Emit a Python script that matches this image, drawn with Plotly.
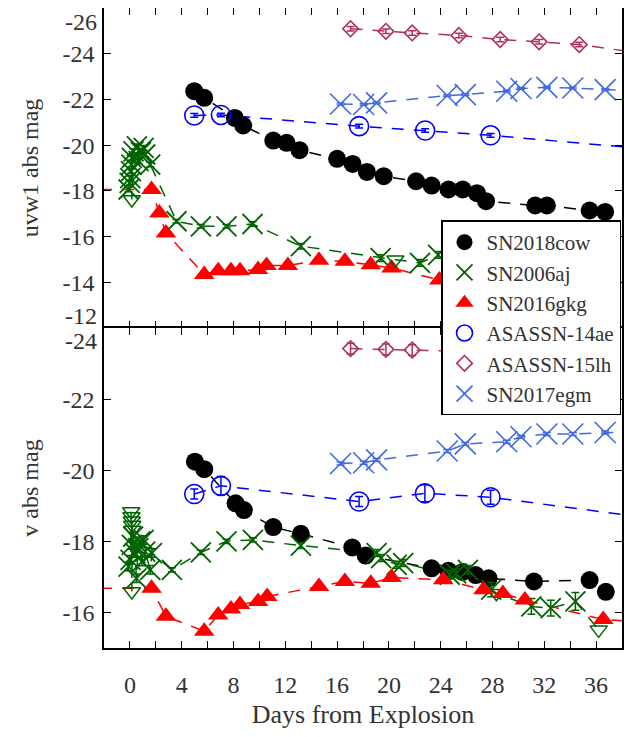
import plotly.graph_objects as go
from plotly.subplots import make_subplots

# ---------------- data (days from explosion, absolute magnitudes) ----------------
cow_uvw1_d = [4.97, 5.74, 8.1, 8.75, 11.07, 12.1, 13.1, 16.0, 17.2, 18.3, 19.6, 22.1, 23.3,
              24.6, 25.7, 26.8, 27.5, 31.3, 32.2, 35.5, 36.7]
cow_uvw1_m = [-22.36, -22.07, -21.19, -20.86, -20.2, -20.1, -19.78, -19.4, -19.18, -18.83,
              -18.64, -18.42, -18.23, -18.06, -18.06, -17.9, -17.55, -17.36, -17.36, -17.14, -17.08]
cow_v_d = [5.02, 5.74, 8.16, 8.8, 11.07, 13.2, 17.17, 18.2, 23.3, 24.6, 25.7, 26.7, 27.7,
           31.2, 35.5, 36.75]
cow_v_m = [-20.24, -20.03, -19.07, -18.88, -18.4, -18.21, -17.83, -17.6, -17.24, -17.17,
           -17.14, -17.05, -16.96, -16.87, -16.91, -16.58]

aj_uvw1_d = [-0.10, -0.02, 0.03, 0.08, 0.12, 0.15, 0.28, 0.54, 0.67, 0.85, 1.06, 1.18, 1.57,
             3.6, 5.48, 7.46, 9.47, 13.2, 19.36, 22.4, 23.8]
aj_uvw1_m = [-18.06, -18.35, -18.56, -18.86, -19.15, -19.44, -19.73, -19.95, -19.3, -19.7,
             -19.88, -19.59, -19.15, -16.67, -16.45, -16.45, -16.55, -15.58, -15.06, -14.85, -15.2]
aj_uvw1_e = [0.1] * 13 + [0.08, 0.08, 0.08, 0.1, 0.12, 0.15, 0.15, 0.15]
aj_uvw1_lim_d = [0.15, 20.5]
aj_uvw1_lim_m = [-17.62, -14.99]

aj_v_d = [-0.10, 0.05, 0.15, 0.25, 0.41, 0.50, 0.65, 0.80, 0.93, 1.06, 1.18, 1.57, 1.70,
          3.24, 5.48, 7.46, 9.5, 13.2, 19.05, 19.4, 20.6, 21.1, 24.7, 25.2, 26.1, 27.9,
          31.0, 32.5, 34.4]
aj_v_m = [-17.29, -17.48, -17.9, -18.13, -17.67, -16.96, -17.81, -18.0, -17.43, -18.04,
          -17.71, -17.2, -17.67, -17.2, -17.69, -18.0, -18.04, -17.88, -17.67, -17.53,
          -17.34, -17.39, -17.06, -17.1, -17.2, -16.64, -16.17, -16.12, -16.31]
aj_v_e = [0.12] * 13 + [0.06, 0.06, 0.06, 0.06, 0.08, 0.1, 0.1, 0.1, 0.1, 0.12, 0.12,
                        0.12, 0.2, 0.22, 0.22, 0.25]
aj_v_lim_d = [0.10, 0.12, 0.15, 0.18, 0.20, 0.15, 28.3, 36.2]
aj_v_lim_m = [-18.84, -18.70, -18.58, -18.46, -18.32, -16.59, -16.54, -15.51]

gkg_uvw1_d = [-4.0, 1.67, 2.27, 2.78, 5.74, 6.82, 7.8, 8.5, 9.9, 10.55, 12.2, 14.6, 16.6,
              18.6, 20.2, 23.9]
gkg_uvw1_m = [-18.06, -18.06, -17.03, -16.16, -14.34, -14.51, -14.51, -14.51, -14.56, -14.73,
              -14.73, -14.96, -14.92, -14.77, -14.63, -14.1]
gkg_v_d = [-4.0, 1.67, 2.78, 5.74, 6.82, 7.8, 8.5, 9.9, 10.6, 14.6, 16.6, 18.6, 20.2, 24.2,
           27.3, 28.8, 30.5, 36.55, 40.0]
gkg_v_m = [-16.68, -16.68, -15.89, -15.47, -15.93, -16.1, -16.22, -16.31, -16.45, -16.73,
           -16.87, -16.82, -16.98, -16.92, -16.64, -16.53, -16.35, -15.8, -15.72]

ae_uvw1_d = [4.97, 7.03, 17.7, 22.8, 27.85, 40.0]
ae_uvw1_m = [-21.3, -21.32, -20.83, -20.64, -20.43, -19.83]
ae_uvw1_e = [0.08, 0.08, 0.08, 0.08, 0.08, 0.08]
ae_v_d = [4.97, 7.03, 17.7, 22.78, 27.85, 40.0]
ae_v_m = [-19.33, -19.56, -19.12, -19.35, -19.24, -18.66]
ae_v_e = [0.14, 0.26, 0.14, 0.24, 0.2, 0.2]

lh_uvw1_d = [17.04, 19.77, 21.8, 25.4, 28.6, 31.6, 34.7, 40.0]
lh_uvw1_m = [-25.09, -24.98, -24.91, -24.8, -24.62, -24.52, -24.4, -23.98]
lh_uvw1_e = [0.1] * 8
lh_v_d = [17.04, 19.77, 21.8, 25.4, 28.6, 31.6, 34.7]
lh_v_m = [-23.42, -23.4, -23.38, -23.35, -23.3, -23.25, -23.2]
lh_v_e = [0.15] * 7

egm_d = [16.27, 18.05, 19.05, 24.5, 25.9, 29.1, 30.2, 32.2, 34.2, 36.7, 40.0]
egm_uvw1_m = [-21.8, -21.78, -21.85, -22.17, -22.21, -22.36, -22.48, -22.53, -22.5, -22.43, -22.35]
egm_v_m = [-20.19, -20.21, -20.29, -20.54, -20.74, -20.8, -20.94, -21.02, -21.02, -21.06, -21.1]
egm_e = [0.04] * 11

x_range = [-2, 38]
x_ticks = list(range(0, 37, 2))
x_labels = [str(v) if v % 4 == 0 else "" for v in x_ticks]
uvw1_ticks = [-24, -22, -20, -18, -16, -14]
v_ticks = [-22, -20, -18, -16]

# ---------------- styling ----------------
FONT = "Liberation Serif"
TXT = "#333333"
C_COW, C_AJ, C_GKG = "black", "#006400", "red"
C_AE, C_LH, C_EGM = "blue", "#B03060", "#4169E1"
DASH = "12px,10px"

fig = make_subplots(rows=2, cols=1, shared_xaxes=True, vertical_spacing=0)


def merged(d1, m1, d2, m2):
    pts = sorted(zip(list(d1) + list(d2), list(m1) + list(m2)))
    return [p[0] for p in pts], [p[1] for p in pts]


def add_line(row, d, m, color):
    fig.add_trace(go.Scatter(x=d, y=m, mode="lines", showlegend=False, hoverinfo="skip",
                             line=dict(color=color, width=1.5, dash=DASH)), row=row, col=1)


def add_pts(row, d, m, name, color, symbol, size, err=None, lw=0, legend=False):
    marker = dict(symbol=symbol, size=size, color=color, line=dict(color=color, width=lw))
    ey = None
    if err is not None:
        ey = dict(type="data", array=err, visible=True, color=color, thickness=1.5, width=4)
    fig.add_trace(go.Scatter(x=d, y=m, mode="markers", name=name, marker=marker,
                             error_y=ey, showlegend=legend, legendgroup=name),
                  row=row, col=1)


# lines (underneath everything)
for row, series in [
    (1, [(cow_uvw1_d, cow_uvw1_m, C_COW),
         (*merged(aj_uvw1_d, aj_uvw1_m, aj_uvw1_lim_d, aj_uvw1_lim_m), C_AJ),
         (gkg_uvw1_d, gkg_uvw1_m, C_GKG), (ae_uvw1_d, ae_uvw1_m, C_AE),
         (lh_uvw1_d, lh_uvw1_m, C_LH), (egm_d, egm_uvw1_m, C_EGM)]),
    (2, [(cow_v_d, cow_v_m, C_COW),
         (*merged(aj_v_d, aj_v_m, aj_v_lim_d, aj_v_lim_m), C_AJ),
         (gkg_v_d, gkg_v_m, C_GKG), (ae_v_d, ae_v_m, C_AE),
         (lh_v_d, lh_v_m, C_LH), (egm_d, egm_v_m, C_EGM)]),
]:
    for d, m, c in series:
        add_line(row, d, m, c)

# markers: top panel (legend) then bottom panel
add_pts(1, cow_uvw1_d, cow_uvw1_m, "SN2018cow", C_COW, "circle", 18, legend=True)
add_pts(1, aj_uvw1_d, aj_uvw1_m, "SN2006aj", C_AJ, "x-thin", 20, err=aj_uvw1_e, lw=1.8, legend=True)
add_pts(1, gkg_uvw1_d, gkg_uvw1_m, "SN2016gkg", C_GKG, "triangle-up", 18, legend=True)
add_pts(1, ae_uvw1_d, ae_uvw1_m, "ASASSN-14ae", C_AE, "circle-open", 19, err=ae_uvw1_e, lw=1.6, legend=True)
add_pts(1, lh_uvw1_d, lh_uvw1_m, "ASASSN-15lh", C_LH, "diamond-open", 12, err=lh_uvw1_e, lw=1.6, legend=True)
add_pts(1, egm_d, egm_uvw1_m, "SN2017egm", C_EGM, "x-thin", 21, err=egm_e, lw=1.6, legend=True)
add_pts(1, aj_uvw1_lim_d, aj_uvw1_lim_m, "SN2006aj", C_AJ, "triangle-down-open", 15, lw=1.5)

add_pts(2, cow_v_d, cow_v_m, "SN2018cow", C_COW, "circle", 18)
add_pts(2, aj_v_d, aj_v_m, "SN2006aj", C_AJ, "x-thin", 20, err=aj_v_e, lw=1.8)
add_pts(2, aj_v_lim_d, aj_v_lim_m, "SN2006aj", C_AJ, "triangle-down-open", 15, lw=1.5)
add_pts(2, gkg_v_d, gkg_v_m, "SN2016gkg", C_GKG, "triangle-up", 18)
add_pts(2, ae_v_d, ae_v_m, "ASASSN-14ae", C_AE, "circle-open", 19, err=ae_v_e, lw=1.6)
add_pts(2, lh_v_d, lh_v_m, "ASASSN-15lh", C_LH, "diamond-open", 12, err=lh_v_e, lw=1.6)
add_pts(2, egm_d, egm_v_m, "SN2017egm", C_EGM, "x-thin", 21, err=egm_e, lw=1.6)

# empty trace so the extra tick-only axis (upward ticks at the panel divider) is drawn
fig.add_trace(go.Scatter(x=[None], y=[None], xaxis="x3", yaxis="y", showlegend=False,
                         hoverinfo="skip"))

axis_common = dict(showline=True, linewidth=1.5, linecolor="black", mirror="ticks",
                   ticks="inside", ticklen=7, tickwidth=1.3, tickcolor="black",
                   showgrid=False, zeroline=False, automargin=False,
                   tickfont=dict(family=FONT, size=24, color=TXT))

fig.update_xaxes(range=x_range, tickmode="array", tickvals=x_ticks, ticktext=x_labels,
                 **axis_common)
fig.update_xaxes(showticklabels=False, side="top", mirror=False, row=1, col=1)
fig.update_xaxes(title=dict(text="Days from Explosion", font=dict(family=FONT, size=26, color=TXT),
                            standoff=8),
                 ticklabelstandoff=14, row=2, col=1)

fig.update_yaxes(**axis_common)
fig.update_yaxes(range=[-12, -26], tickmode="array", tickvals=uvw1_ticks,
                 ticktext=[str(v) for v in uvw1_ticks], ticklabelstandoff=3,
                 title=dict(text="uvw1 abs mag", font=dict(family=FONT, size=24, color=TXT),
                            standoff=17), row=1, col=1)
fig.update_yaxes(range=[-15, -24], tickmode="array", tickvals=v_ticks,
                 ticktext=[str(v) for v in v_ticks], ticklabelstandoff=3,
                 title=dict(text="v abs mag", font=dict(family=FONT, size=24, color=TXT),
                            standoff=17), row=2, col=1)

# end-of-axis labels, nudged inward as in the reference
for val, yref, shift in [(-26, "y", -14), (-12, "y", 12), (-24, "y2", -13)]:
    fig.add_annotation(x=0, xref="paper", xanchor="right", xshift=-5, y=val, yref=yref,
                       yshift=shift, text=str(val), showarrow=False,
                       font=dict(family=FONT, size=24, color=TXT))

# page body adds an 8px offset; size the figure so the plot lands where the reference has it
fig.update_layout(
    width=628, height=729,
    margin=dict(l=96, r=14, t=0, b=89),
    paper_bgcolor="white", plot_bgcolor="white",
    font=dict(family=FONT, color=TXT),
    xaxis3=dict(overlaying="x", anchor="y", side="bottom", range=x_range,
                tickmode="array", tickvals=x_ticks, showticklabels=False,
                ticks="inside", ticklen=7, tickwidth=1.3, tickcolor="black",
                showline=False, showgrid=False, zeroline=False, automargin=False),
    legend=dict(x=0.6506, y=0.668, xanchor="left", yanchor="top",
                bgcolor="white", bordercolor="black", borderwidth=1.5, itemwidth=34,
                font=dict(family=FONT, size=21, color=TXT), tracegroupgap=0),
)

fig.write_html("out.html")
